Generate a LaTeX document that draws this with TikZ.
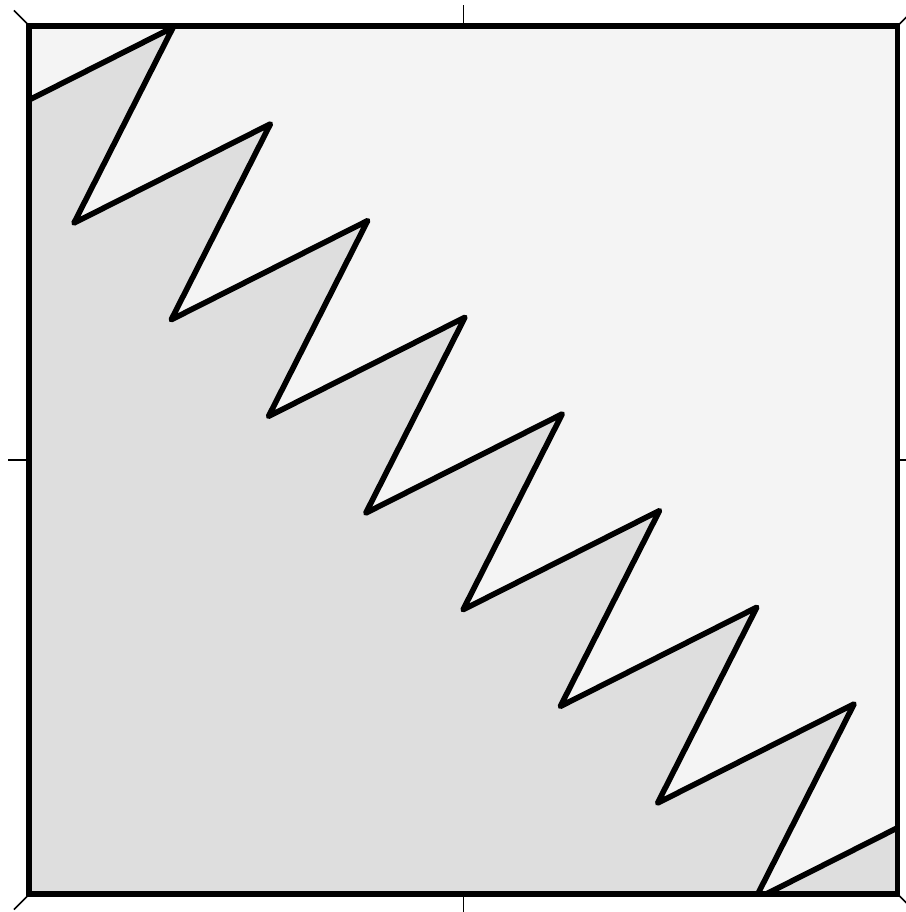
\documentclass[tikz,border=0pt]{standalone}
\definecolor{lightfill}{RGB}{244,244,244}
\definecolor{darkfill}{RGB}{222,222,222}
\begin{document}
\begin{tikzpicture}[x=1cm,y=1cm,
  frame/.style={line width=1.75pt},
  zig/.style={line width=1.65pt,line join=round,line cap=round},
  tick/.style={line width=0.45pt}]
\useasboundingbox (-0.305,-0.186) rectangle (9.084,9.269);
\coordinate (sw) at (0,0);
\coordinate (se) at (9,0);
\coordinate (ne) at (9,9);
\coordinate (nw) at (0,9);
\fill[lightfill] (sw) rectangle (ne);
\begin{scope}
  \clip (sw) rectangle (ne);
  \fill[darkfill] (-0.546,7.959)
    \foreach \k in {0,...,7} { -- ({1.49+1.0085*\k},{8.986-1.0022*\k}) -- ({0.462+1.0085*\k},{6.957-1.0022*\k}) }
    -- (9.558,0.968) -- (9.6,-0.5) -- (-0.6,-0.5) -- cycle;
  \draw[zig] (-0.546,7.959)
    \foreach \k in {0,...,7} { -- ({1.49+1.0085*\k},{8.986-1.0022*\k}) -- ({0.462+1.0085*\k},{6.957-1.0022*\k}) }
    -- (9.558,0.968);
\end{scope}
\draw[frame] (sw) rectangle (ne);
% ticks
\draw[tick] (4.5,9) -- (4.5,9.22);
\draw[tick] (4.5,0) -- (4.5,-0.22);
\draw[tick] (0,4.5) -- (-0.22,4.5);
\draw[tick] (9,4.5) -- (9.22,4.5);
\draw[tick] (nw) -- ++(-0.16,0.16);
\draw[tick] (ne) -- ++(0.16,0.16);
\draw[tick] (sw) -- ++(-0.16,-0.16);
\draw[tick] (se) -- ++(0.16,-0.16);
\end{tikzpicture}
\end{document}
